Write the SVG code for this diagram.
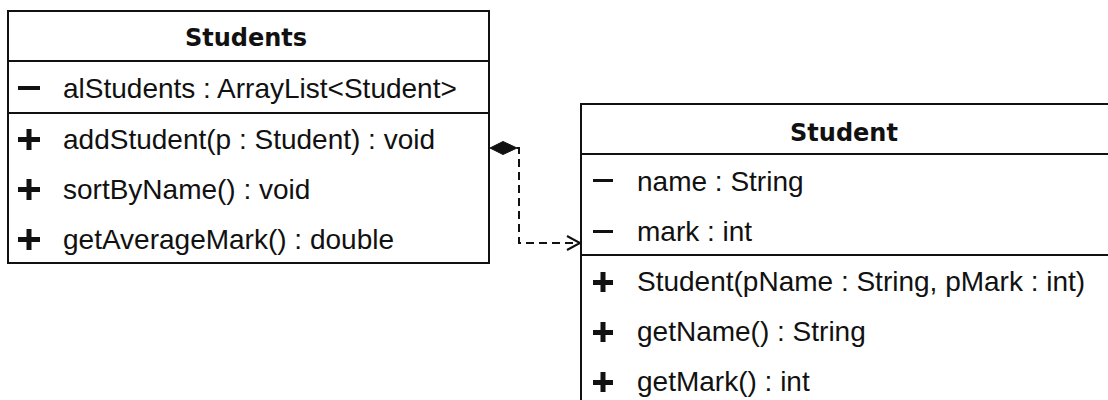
<svg xmlns="http://www.w3.org/2000/svg" width="1108" height="400" viewBox="0 0 1108 400">
<style>
.box{fill:#fff;stroke:#111;stroke-width:2}
.div{stroke:#111;stroke-width:2}
.title{font-family:"DejaVu Sans",sans-serif;font-weight:bold;font-size:24px;fill:#111;text-anchor:middle}
.t{font-family:"Liberation Sans",Arial,sans-serif;font-size:28px;fill:#111}
.sym{fill:#111}
.conn{fill:none;stroke:#111;stroke-width:2}
</style>
<rect width="1108" height="400" fill="#fff"/>
<g id="Students">
<rect class="box" x="8" y="11" width="481" height="252"/>
<line class="div" x1="8" y1="61" x2="489" y2="61"/>
<line class="div" x1="8" y1="113" x2="489" y2="113"/>
<text class="title" x="246" y="46">Students</text>
<rect class="sym" x="18" y="86" width="22" height="4"/>
<text class="t" x="63" y="98">alStudents : ArrayList&lt;Student&gt;</text>
<path class="sym" d="M18,137h22v5h-22z M26.5,129h5v21h-5z"/>
<text class="t" x="63" y="149">addStudent(p : Student) : void</text>
<path class="sym" d="M18,187h22v5h-22z M26.5,179h5v21h-5z"/>
<text class="t" x="63" y="199">sortByName() : void</text>
<path class="sym" d="M18,237h22v5h-22z M26.5,229h5v21h-5z"/>
<text class="t" x="63" y="249">getAverageMark() : double</text>
</g>
<g id="Student">
<rect class="box" x="581" y="104" width="530" height="300"/>
<line class="div" x1="581" y1="154" x2="1110" y2="154"/>
<line class="div" x1="581" y1="255" x2="1110" y2="255"/>
<text class="title" x="844" y="141">Student</text>
<rect class="sym" x="593" y="179" width="20" height="3"/>
<text class="t" x="637" y="191">name : String</text>
<rect class="sym" x="593" y="230" width="20" height="3"/>
<text class="t" x="637" y="241">mark : int</text>
<path class="sym" d="M593,280h20v5h-20z M600.5,272h5v20h-5z"/>
<text class="t" x="637" y="291">Student(pName : String, pMark : int)</text>
<path class="sym" d="M593,330h20v5h-20z M600.5,322h5v20h-5z"/>
<text class="t" x="637" y="341">getName() : String</text>
<path class="sym" d="M593,380h20v5h-20z M600.5,372h5v20h-5z"/>
<text class="t" x="637" y="391">getMark() : int</text>
</g>
<g id="connectors">
<path d="M490,148 L503,141.5 L517,148 L503,154.5 Z" fill="#111" stroke="#111" stroke-width="1"/>
<path class="conn" d="M517,148 H519 V243 H579" stroke-dasharray="8 5"/>
<path class="conn" d="M567,236 L580,243 L567,250"/>
</g>
</svg>
